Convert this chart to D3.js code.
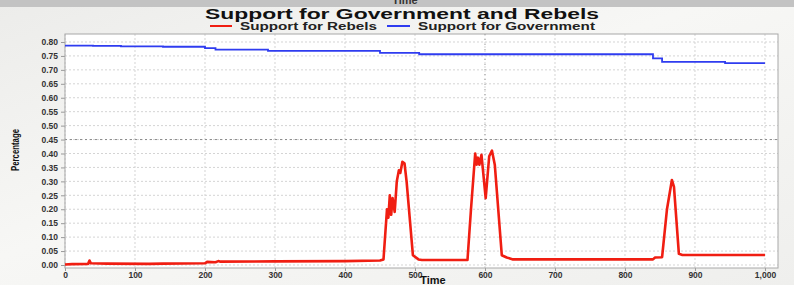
<!DOCTYPE html>
<html>
<head>
<meta charset="utf-8">
<script src="https://cdn.jsdelivr.net/npm/d3@7"></script>
<style>
  body { margin: 0; padding: 0; overflow: hidden; }
  text { font-family: "Liberation Sans", Arial, sans-serif; }
</style>
</head>
<body>
<div id="container-svg"></div>
<script>

// ***************************** DATA ******************************
var rebels_time  = [0, 10, 33, 35, 37, 60, 120, 140, 200, 203, 215, 219, 222, 300, 400, 450, 455,
                    460, 462, 464, 466, 468, 471, 474, 477, 479, 482, 485, 488, 497, 505, 510,
                    575, 580, 586, 588, 590, 592, 595, 601, 606, 610, 614, 624, 631, 640,
                    840, 843, 853, 860, 867, 870, 877, 882, 1000];
var rebels_value = [0.002, 0.003, 0.004, 0.016, 0.006, 0.005, 0.004, 0.005, 0.006, 0.011, 0.010, 0.014, 0.012, 0.013, 0.014, 0.016, 0.020,
                    0.200, 0.170, 0.250, 0.180, 0.240, 0.190, 0.300, 0.340, 0.330, 0.370, 0.365, 0.300, 0.035, 0.020, 0.018,
                    0.018, 0.200, 0.400, 0.360, 0.385, 0.360, 0.395, 0.240, 0.390, 0.410, 0.360, 0.035, 0.027, 0.020,
                    0.020, 0.027, 0.028, 0.200, 0.305, 0.280, 0.040, 0.036, 0.036];

var gov_time  = [0, 40, 80, 140, 200, 215, 290, 450, 506, 840, 853, 943, 1000];
var gov_value = [0.787, 0.786, 0.784, 0.783, 0.778, 0.773, 0.768, 0.761, 0.756, 0.741, 0.729, 0.724, 0.724];

var x_ticks = [0, 100, 200, 300, 400, 500, 600, 700, 800, 900, 1000];
var y_ticks = d3.range(0, 17).map(function(i) { return i * 0.05; });

var series_names = ["Support for Rebels", "Support for Government"];
var series_colors = ["#f01e12", "#2f3cf0"];

var crosshair_x = 600,
    crosshair_y = 0.45;

// ************************ GLOBAL DISPLAY VARS ********************
var svg_width = 794,
    svg_height = 285;

var plot = {left: 65, right: 778, top: 34, bottom: 268};

var svg = d3.select("#container-svg").append("svg")
    .attr("width", svg_width)
    .attr("height", svg_height);

var defs = svg.append("defs");
var bg_grad = defs.append("linearGradient")
    .attr("id", "bgGrad")
    .attr("x1", "0%").attr("y1", "0%")
    .attr("x2", "100%").attr("y2", "100%");
bg_grad.append("stop").attr("offset", "0%").attr("stop-color", "#ececea");
bg_grad.append("stop").attr("offset", "45%").attr("stop-color", "#f7f7f5");
bg_grad.append("stop").attr("offset", "100%").attr("stop-color", "#efefed");

svg.append("rect")
    .attr("width", svg_width).attr("height", svg_height)
    .attr("fill", "url(#bgGrad)");

// grey strip at the top, the previous chart's axis title shows cut off
svg.append("clipPath").attr("id", "topClip")
    .append("rect").attr("width", svg_width).attr("height", 7);
var top_g = svg.append("g").attr("clip-path", "url(#topClip)");
top_g.append("rect").attr("width", svg_width).attr("height", 7).attr("fill", "#c3c3c3");
top_g.append("text")
    .attr("x", 405).attr("y", 4)
    .attr("text-anchor", "middle")
    .attr("font-size", 11).attr("font-weight", "bold")
    .attr("fill", "#333")
    .text("Time");

// ***************************** SCALES ****************************
var scale_x = d3.scaleLinear()
    .domain([0, 1018.6])
    .range([plot.left, plot.right]);

var scale_y = d3.scaleLinear()
    .domain([-0.0108, 0.8287])
    .range([plot.bottom, plot.top]);

// ***************************** PLOT AREA *************************
svg.append("rect")
    .attr("x", plot.left).attr("y", plot.top)
    .attr("width", plot.right - plot.left)
    .attr("height", plot.bottom - plot.top)
    .attr("fill", "#ffffff");

// grid
svg.append("g")
    .selectAll("line")
    .data(y_ticks)
    .enter()
    .append("line")
      .attr("x1", plot.left).attr("x2", plot.right)
      .attr("y1", function(d) { return scale_y(d); })
      .attr("y2", function(d) { return scale_y(d); })
      .attr("stroke", "#d4d4d4")
      .attr("stroke-dasharray", "2,2");

svg.append("g")
    .selectAll("line")
    .data(x_ticks)
    .enter()
    .append("line")
      .attr("x1", function(d) { return scale_x(d); })
      .attr("x2", function(d) { return scale_x(d); })
      .attr("y1", plot.top).attr("y2", plot.bottom)
      .attr("stroke", "#d4d4d4")
      .attr("stroke-dasharray", "2,2");

// crosshairs
svg.append("line")
    .attr("x1", plot.left).attr("x2", plot.right)
    .attr("y1", scale_y(crosshair_y)).attr("y2", scale_y(crosshair_y))
    .attr("stroke", "#8a8a8a")
    .attr("stroke-dasharray", "2,3");

svg.append("line")
    .attr("x1", scale_x(crosshair_x)).attr("x2", scale_x(crosshair_x))
    .attr("y1", plot.top).attr("y2", plot.bottom)
    .attr("stroke", "#9a9a9a")
    .attr("stroke-dasharray", "1,4");

// ***************************** AXES ******************************
var axis_y = d3.axisLeft(scale_y)
    .tickValues(y_ticks)
    .tickSize(4)
    .tickPadding(3)
    .tickFormat(d3.format(".2f"));

var g_y = svg.append("g")
    .attr("transform", "translate(" + plot.left + ",0)")
    .call(axis_y);

var axis_x = d3.axisBottom(scale_x)
    .tickValues(x_ticks)
    .tickSize(3)
    .tickPadding(1)
    .tickFormat(d3.format(",d"));

var g_x = svg.append("g")
    .attr("transform", "translate(0," + plot.bottom + ")")
    .call(axis_x);

[g_x, g_y].forEach(function(g) {
    g.select(".domain").remove();
    g.selectAll(".tick line").attr("stroke", "#999");
    g.selectAll(".tick text")
        .attr("font-family", "'Liberation Sans', Arial, sans-serif")
        .attr("font-size", 8.5)
        .attr("font-weight", "bold")
        .attr("fill", "#333");
});

// frame
svg.append("rect")
    .attr("x", plot.left).attr("y", plot.top)
    .attr("width", plot.right - plot.left)
    .attr("height", plot.bottom - plot.top)
    .attr("fill", "none")
    .attr("stroke", "#a8a8a8");

// ***************************** LINES *****************************
var line_rebels = d3.line()
    .x(function(d) { return scale_x(d[0]); })
    .y(function(d) { return scale_y(d[1]); });

var line_gov = d3.line()
    .curve(d3.curveStepAfter)
    .x(function(d) { return scale_x(d[0]); })
    .y(function(d) { return scale_y(d[1]); });

svg.append("path")
    .datum(d3.zip(gov_time, gov_value))
    .attr("d", line_gov)
    .attr("fill", "none")
    .attr("stroke", series_colors[1])
    .attr("stroke-width", 1.8);

svg.append("path")
    .datum(d3.zip(rebels_time, rebels_value))
    .attr("d", line_rebels)
    .attr("fill", "none")
    .attr("stroke", series_colors[0])
    .attr("stroke-width", 2.6)
    .attr("stroke-linejoin", "round");

// ***************************** TEXTS *****************************
svg.append("text")
    .attr("x", 402).attr("y", 19)
    .attr("text-anchor", "middle")
    .attr("font-size", 14.5)
    .attr("font-weight", "bold")
    .attr("fill", "#111")
    .attr("textLength", 394)
    .attr("lengthAdjust", "spacingAndGlyphs")
    .text("Support for Government and Rebels");

var legend = [
    {name: series_names[0], color: series_colors[0], x1: 210, x2: 232, tx: 240, tw: 137},
    {name: series_names[1], color: series_colors[1], x1: 387, x2: 410, tx: 418, tw: 177}
];

for (i = 0; i < legend.length; i++) {
    var l = legend[i];
    svg.append("line")
        .attr("x1", l.x1).attr("x2", l.x2)
        .attr("y1", 26).attr("y2", 26)
        .attr("stroke", l.color)
        .attr("stroke-width", 2);
    svg.append("text")
        .attr("x", l.tx).attr("y", 29.5)
        .attr("font-size", 10)
        .attr("font-weight", "bold")
        .attr("fill", "#222")
        .attr("textLength", l.tw)
        .attr("lengthAdjust", "spacingAndGlyphs")
        .text(l.name);
}

svg.append("text")
    .attr("x", 433).attr("y", 284)
    .attr("text-anchor", "middle")
    .attr("font-size", 11)
    .attr("font-weight", "bold")
    .attr("fill", "#111")
    .text("Time");

svg.append("text")
    .attr("transform", "translate(19,150) rotate(-90)")
    .attr("text-anchor", "middle")
    .attr("font-size", 11)
    .attr("font-weight", "bold")
    .attr("fill", "#111")
    .attr("textLength", 42)
    .attr("lengthAdjust", "spacingAndGlyphs")
    .text("Percentage");

</script>
</body>
</html>
